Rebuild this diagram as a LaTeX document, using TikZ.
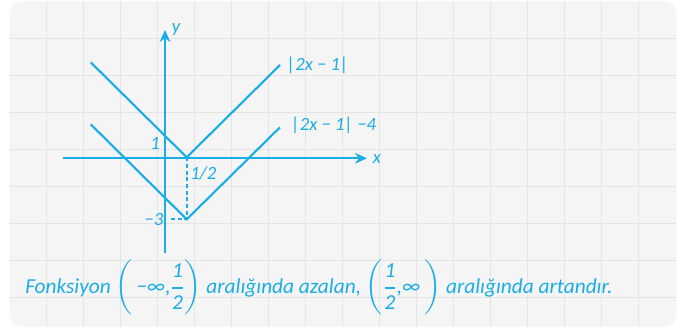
\documentclass[tikz,border=0pt]{standalone}
\usepackage{amsmath}
\usepackage{fontspec}
\setmainfont{Carlito}
\usetikzlibrary{arrows.meta,positioning}
\definecolor{plotblue}{RGB}{27,173,230}
\definecolor{panelgray}{RGB}{245,245,245}
\definecolor{gridgray}{RGB}{228,228,228}
\newcommand{\halffrac}{\genfrac{}{}{1.5pt}{0}{\mbox{1}}{\mbox{2}}}

\begin{document}
\begin{tikzpicture}[x=0.75pt, y=-0.75pt, every node/.style={font=\itshape\fontsize{14}{16}\selectfont, text=plotblue, inner sep=0pt}]
  \tikzset{axis/.style={draw=plotblue, line width=1.6pt, -{Stealth[length=9pt,width=8pt]}}, graph/.style={draw=plotblue, line width=1.6pt}, guide/.style={draw=plotblue, line width=1.4pt, dash pattern=on 3pt off 2pt}}
  \useasboundingbox (0,0) rectangle (677,328);
  % panel with squared paper
  \fill[panelgray, rounded corners=9pt] (9.5,1.5) rectangle (676.5,326.5);
  \begin{scope}
    \clip[rounded corners=9pt] (9.5,1.5) rectangle (676.5,326.5);
    \foreach \i in {1,...,17} \draw[gridgray, line width=0.8pt] (9.5+37*\i,0) -- (9.5+37*\i,328);
    \foreach \j in {1,...,8} \draw[gridgray, line width=0.8pt] (0,1.5+37*\j) -- (677,1.5+37*\j);
  \end{scope}
  % axes
  \coordinate (xstart) at (63,158.3);
  \coordinate (xend) at (367,158.3);
  \coordinate (ystart) at (165,253);
  \coordinate (yend) at (165,30);
  \draw[axis] (xstart) -- (xend);
  \draw[axis] (ystart) -- (yend);
  % graphs
  \coordinate (upl) at (90.7,62.3);
  \coordinate (top) at (186.7,157.3);
  \coordinate (upr) at (280,65);
  \coordinate (lowl) at (90.7,124.3);
  \coordinate (bottom) at (186.7,219.3);
  \coordinate (lowr) at (280,127.3);
  \coordinate (yfoot) at (171,219.3);
  \draw[guide] (top) -- (bottom);
  \draw[guide] (yfoot) -- (bottom);
  \draw[graph] (upl) -- (top) -- (upr);
  \draw[graph] (lowl) -- (bottom) -- (lowr);
  % labels
  \node (ylbl) at (176,30) {y};
  \node (xlbl) at (377,159) {x};
  \node[anchor=west] (absl) at (286.5,65) {|2x − 1|};
  \node[anchor=west] (shiftl) at (291,125) {|2x − 1| −4};
  \node (one) at (155,143) {1};
  \node[anchor=west] (half) at (190,174) {1/2};
  \node[anchor=east] (mthree) at (163.5,220) {−3};
  \node[anchor=base west, font=\itshape\fontsize{16}{19}\selectfont] (caption) at (25,293.3) {Fonksiyon $\left(\,\mbox{−∞,}\halffrac\right)$ aralığında azalan, $\left(\halffrac\mbox{,∞}\,\right)$ aralığında artandır.};
\end{tikzpicture}
\end{document}
